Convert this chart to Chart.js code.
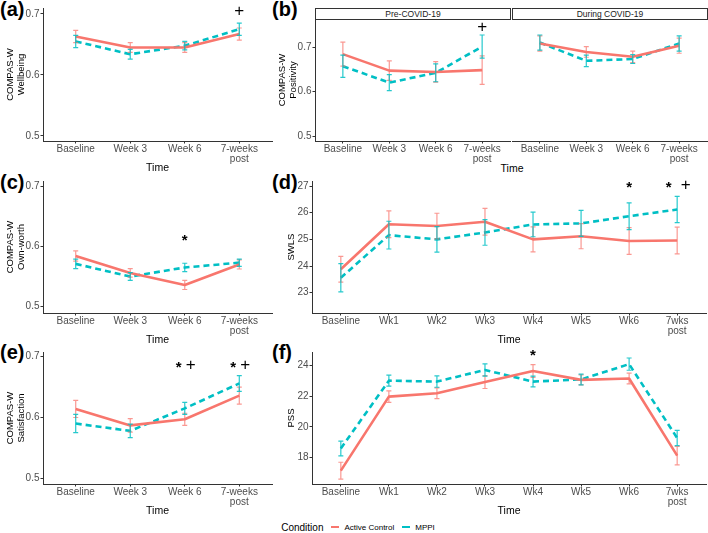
<!DOCTYPE html>
<html>
<head>
<meta charset="utf-8">
<script src="https://cdn.jsdelivr.net/npm/chart.js@4.4.1/dist/chart.umd.min.js"></script>
<style>
  body { margin: 0; background: #fff; }
  #fig { position: relative; width: 708px; height: 533px; overflow: hidden;
         font-family: "Liberation Sans", Arial, sans-serif; }
  canvas { position: absolute; }
  .tag { position: absolute; font-weight: bold; font-size: 20px; line-height: 20px; color: #000; }
  .strip { position: absolute; box-sizing: border-box; border: 1px solid #333; height: 12px;
           font-size: 8.5px; line-height: 10px; text-align: center; color: #1a1a1a; }
  .xtitle { position: absolute; font-size: 10.5px; color: #000; transform: translate(-50%, -50%); }
  #legend { position: absolute; left: 4px; width: 708px; top: 520px; height: 14px;
            display: flex; justify-content: center; align-items: center; color: #000; }
  #legend .key { display: inline-block; width: 8px; height: 2px; margin: 0 5px 0 8px; }
</style>
</head>
<body>
<div id="fig">
  <div class="tag" style="left:0;top:-1px">(a)</div>
  <div class="tag" style="left:272px;top:-1px">(b)</div>
  <div class="tag" style="left:0;top:172px">(c)</div>
  <div class="tag" style="left:272px;top:172px">(d)</div>
  <div class="tag" style="left:0;top:342px">(e)</div>
  <div class="tag" style="left:272px;top:342px">(f)</div>
  <div class="strip" style="left:315px;top:8px;width:196px">Pre-COVID-19</div>
  <div class="strip" style="left:512px;top:8px;width:196px">During COVID-19</div>
  <div class="xtitle" style="left:512px;top:168px">Time</div>
  <div id="legend">
    <span style="font-size:10px">Condition</span>
    <span class="key" style="background:#F8766D"></span><span style="font-size:8px">Active Control</span>
    <span class="key" style="background:#00BFC4"></span><span style="font-size:8px">MPPI</span>
  </div>
</div>
<script>
/* ── data ── */
const weekLabels = ["Baseline", "Week 3", "Week 6", ["7-weeks", "post"]];
const wkLabels = ["Baseline", "Wk1", "Wk2", "Wk3", "Wk4", "Wk5", "Wk6", ["7wks", "post"]];

const compasTicks = [0.5, 0.6, 0.7];
const swlsTicks = [23, 24, 25, 26, 27];
const pssTicks = [18, 20, 22, 24];

// (a) wellbeing
const wellbeingActive   = [0.663, 0.645, 0.645, 0.667];
const wellbeingActiveSE = [0.010, 0.008, 0.008, 0.010];
const wellbeingMPPI     = [0.655, 0.634, 0.648, 0.675];
const wellbeingMPPISE   = [0.010, 0.008, 0.007, 0.010];
const wellbeingSig      = [[3, 0.704, "+"]];

// (b) positivity, split by period
const posPreActive   = [0.684, 0.647, 0.644, 0.648];
const posPreActiveSE = [0.027, 0.022, 0.023, 0.032];
const posPreMPPI     = [0.657, 0.620, 0.642, 0.701];
const posPreMPPISE   = [0.025, 0.018, 0.020, 0.026];
const posPreSig      = [[3, 0.745, "+"]];
const posDurActive   = [0.708, 0.689, 0.678, 0.703];
const posDurActiveSE = [0.017, 0.012, 0.013, 0.017];
const posDurMPPI     = [0.710, 0.669, 0.673, 0.708];
const posDurMPPISE   = [0.017, 0.013, 0.010, 0.017];

// (c) own-worth
const ownActive   = [0.584, 0.556, 0.536, 0.570];
const ownActiveSE = [0.0085, 0.007, 0.0075, 0.0075];
const ownMPPI     = [0.571, 0.550, 0.565, 0.573];
const ownMPPISE   = [0.008, 0.0065, 0.007, 0.006];
const ownSig      = [[2, 0.614, "*"]];

// (d) SWLS
const swlsActive   = [23.88, 25.57, 25.50, 25.66, 25.00, 25.12, 24.94, 24.96];
const swlsActiveSE = [0.48, 0.50, 0.48, 0.50, 0.47, 0.47, 0.50, 0.50];
const swlsMPPI     = [23.56, 25.16, 25.00, 25.26, 25.56, 25.60, 25.87, 26.12];
const swlsMPPISE   = [0.53, 0.52, 0.48, 0.48, 0.46, 0.49, 0.50, 0.49];
const swlsSig      = [[6, 27.04, "*"], [7, 27.04, "* +"]];

// (e) satisfaction
const satActive   = [0.614, 0.587, 0.597, 0.636];
const satActiveSE = [0.014, 0.011, 0.010, 0.014];
const satMPPI     = [0.590, 0.578, 0.615, 0.656];
const satMPPISE   = [0.015, 0.011, 0.010, 0.013];
const satSig      = [[2, 0.686, "* +"], [3, 0.686, "* +"]];

// (f) PSS
const pssActive   = [17.15, 21.98, 22.20, 22.93, 23.65, 23.07, 23.16, 18.13];
const pssActiveSE = [0.55, 0.38, 0.35, 0.42, 0.42, 0.33, 0.35, 0.60];
const pssMPPI     = [18.60, 23.02, 22.96, 23.72, 22.96, 23.10, 24.10, 19.28];
const pssMPPISE   = [0.48, 0.36, 0.37, 0.40, 0.35, 0.35, 0.40, 0.50];
const pssSig      = [[4, 24.85, "*"]];

/* ── styling ── */
const FONT = '"Liberation Sans", Arial, sans-serif';
Chart.defaults.font.family = FONT;
const RED = "#F8766D", CYAN = "#00BFC4";
const RED_ERR = "rgba(248,118,109,0.75)", CYAN_ERR = "rgba(0,191,196,0.85)";

/* error bars drawn through the chart's scales */
const errorBars = {
  id: "errorBars",
  afterDatasetsDraw(chart) {
    const { ctx, scales: { x, y } } = chart;
    chart.data.datasets.forEach(ds => {
      if (!ds.se) return;
      ctx.save();
      ctx.setLineDash([]);
      ctx.strokeStyle = ds.errColor;
      ctx.lineWidth = 1.2;
      ds.data.forEach((p, i) => {
        const px = x.getPixelForValue(p.x);
        const top = y.getPixelForValue(p.y + ds.se[i]);
        const bot = y.getPixelForValue(p.y - ds.se[i]);
        ctx.beginPath();
        ctx.moveTo(px, top); ctx.lineTo(px, bot);
        ctx.moveTo(px - 2.5, top); ctx.lineTo(px + 2.5, top);
        ctx.moveTo(px - 2.5, bot); ctx.lineTo(px + 2.5, bot);
        ctx.stroke();
      });
      ctx.restore();
    });
  }
};

/* significance markers (* and +) */
const sigMarks = {
  id: "sigMarks",
  afterDatasetsDraw(chart, args, opts) {
    const { ctx, scales: { x, y } } = chart;
    const gap = opts.gap || 12;
    (opts.marks || []).forEach(([i, level, text]) => {
      const syms = text.split(" ");
      const cx = x.getPixelForValue(i), cy = y.getPixelForValue(level);
      syms.forEach((s, k) => {
        const sx = cx + (k - (syms.length - 1) / 2) * gap;
        ctx.save();
        ctx.fillStyle = "#000";
        ctx.textAlign = "center";
        ctx.textBaseline = "middle";
        if (s === "*") { ctx.font = "bold 15px " + FONT; ctx.fillText("*", sx, cy + 3); }
        else { ctx.font = "17px " + FONT; ctx.fillText("+", sx, cy); }
        ctx.restore();
      });
    });
  }
};

const fig = document.getElementById("fig");

function panel(o) {
  const showY = o.yAxis !== false;
  const yW = showY ? 43 : 0, xH = 36, padTop = 6;
  const left = o.L - yW, top = o.T - padTop;
  const cv = document.createElement("canvas");
  cv.width = o.R - left + 2;
  cv.height = o.B - top + xH;
  cv.style.left = left + "px";
  cv.style.top = top + "px";
  fig.appendChild(cv);
  const pts = v => v.map((y, i) => ({ x: i, y }));

  return new Chart(cv, {
    type: "line",
    data: {
      datasets: [
        { label: "Active Control", data: pts(o.active), se: o.activeSE, errColor: RED_ERR,
          borderColor: RED, borderWidth: 2.6, pointRadius: 0, tension: 0,
          borderCapStyle: "butt", borderJoinStyle: "round" },
        { label: "MPPI", data: pts(o.mppi), se: o.mppiSE, errColor: CYAN_ERR,
          borderColor: CYAN, borderWidth: 2.6, borderDash: [6, 4], pointRadius: 0, tension: 0,
          borderCapStyle: "butt", borderJoinStyle: "round" }
      ]
    },
    options: {
      responsive: false, animation: false, devicePixelRatio: 1,
      layout: { padding: { top: padTop, right: 2, left: 0, bottom: 0 } },
      plugins: { legend: { display: false }, tooltip: { enabled: false },
                 sigMarks: { marks: o.marks || [], gap: o.sigGap } },
      scales: {
        x: {
          type: "linear", min: -0.6, max: o.labels.length - 0.4,
          afterBuildTicks: s => { s.ticks = o.labels.map((_, i) => ({ value: i })); },
          afterFit: s => { s.height = xH; s.paddingLeft = 0; s.paddingRight = 0; },
          ticks: { callback: v => o.labels[v], autoSkip: false, maxRotation: 0, minRotation: 0,
                   padding: 0, color: "#4d4d4d", font: { size: 10, lineHeight: 1.05 } },
          grid: { drawOnChartArea: false, drawTicks: true, tickLength: 2.5, color: "#333" },
          border: { display: true, color: "#333", width: 1 },
          title: { display: o.xTitle !== false, text: "Time", color: "#000",
                   font: { size: 10.5, lineHeight: 1.2 }, padding: { top: 0, bottom: 2.2 } }
        },
        y: {
          display: showY, min: o.yMin, max: o.yMax,
          afterBuildTicks: s => { s.ticks = o.yTicks.map(v => ({ value: v })); },
          afterFit: s => { s.width = yW; s.paddingTop = 0; s.paddingBottom = 0; },
          ticks: { callback: v => o.dec ? v.toFixed(o.dec) : String(v), padding: 1,
                   color: "#4d4d4d", font: { size: 10 } },
          grid: { drawOnChartArea: false, drawTicks: true, tickLength: 2.5, color: "#333" },
          border: { display: true, color: "#333", width: 1 },
          title: { display: true, text: o.yTitle || "", color: "#000",
                   font: { size: 9.5, lineHeight: 1.12 },
                   padding: { top: Array.isArray(o.yTitle) ? 5.2 : 17, bottom: 0 } }
        }
      }
    },
    plugins: [errorBars, sigMarks]
  });
}

panel({ L: 43, R: 272, T: 8, B: 141, labels: weekLabels, yTicks: compasTicks, dec: 1,
        yMin: 0.4918, yMax: 0.7098, yTitle: ["COMPAS-W", "Wellbeing"],
        active: wellbeingActive, activeSE: wellbeingActiveSE, mppi: wellbeingMPPI, mppiSE: wellbeingMPPISE,
        marks: wellbeingSig });

panel({ L: 315, R: 510, T: 19, B: 141, labels: weekLabels, yTicks: compasTicks, dec: 1,
        yMin: 0.4888, yMax: 0.763, yTitle: ["COMPAS-W", "Positivity"], xTitle: false,
        active: posPreActive, activeSE: posPreActiveSE, mppi: posPreMPPI, mppiSE: posPreMPPISE,
        marks: posPreSig });

panel({ L: 512, R: 707, T: 19, B: 141, labels: weekLabels, yTicks: compasTicks, dec: 1,
        yMin: 0.4888, yMax: 0.763, yAxis: false, xTitle: false,
        active: posDurActive, activeSE: posDurActiveSE, mppi: posDurMPPI, mppiSE: posDurMPPISE });

panel({ L: 43, R: 272, T: 181, B: 313, labels: weekLabels, yTicks: compasTicks, dec: 1,
        yMin: 0.4896, yMax: 0.7083, yTitle: ["COMPAS-W", "Own-worth"],
        active: ownActive, activeSE: ownActiveSE, mppi: ownMPPI, mppiSE: ownMPPISE,
        marks: ownSig });

panel({ L: 312, R: 706, T: 181, B: 313, labels: wkLabels, yTicks: swlsTicks,
        yMin: 22.24, yMax: 27.19, yTitle: "SWLS", sigGap: 17,
        active: swlsActive, activeSE: swlsActiveSE, mppi: swlsMPPI, mppiSE: swlsMPPISE,
        marks: swlsSig });

panel({ L: 43, R: 272, T: 352, B: 484, labels: weekLabels, yTicks: compasTicks, dec: 1,
        yMin: 0.4906, yMax: 0.7077, yTitle: ["COMPAS-W", "Satisfaction"],
        active: satActive, activeSE: satActiveSE, mppi: satMPPI, mppiSE: satMPPISE,
        marks: satSig });

panel({ L: 312, R: 706, T: 352, B: 484, labels: wkLabels, yTicks: pssTicks,
        yMin: 16.28, yMax: 24.89, yTitle: "PSS",
        active: pssActive, activeSE: pssActiveSE, mppi: pssMPPI, mppiSE: pssMPPISE,
        marks: pssSig });
</script>
</body>
</html>
